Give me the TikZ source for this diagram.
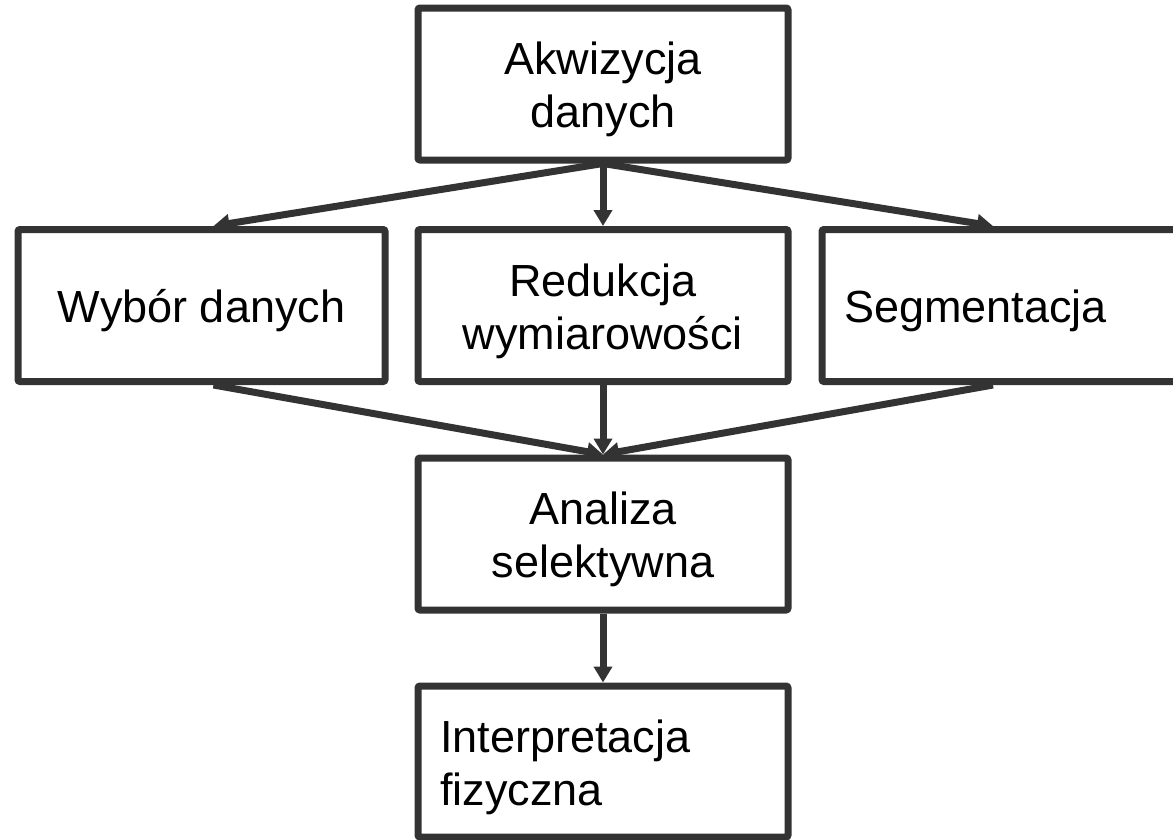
\documentclass[tikz,border=0pt]{standalone}
\usepackage{fontspec}
\setmainfont{Liberation Sans}
\usetikzlibrary{arrows.meta}
\definecolor{linegray}{HTML}{333333}
\newcommand{\boxstrut}{\rule{0pt}{44pt}}

\begin{document}
\begin{tikzpicture}[x=1pt,y=-1pt,line width=7pt,
	block/.style={draw=linegray,rounded corners=2pt,minimum width=370pt,minimum height=152pt,align=center,font=\fontsize{45}{53}\selectfont},
	leftblock/.style={block,text width=326pt,inner xsep=22pt,align=left},
	arr/.style={draw=linegray,-{Triangle[length=16pt,width=18pt]}}]
		\useasboundingbox (0,0) rectangle (1173,839);
		\clip (0,0) rectangle (1173,839);
		\node[block] (akw) at (603,84) {\boxstrut Akwizycja\\danych};
		\node[block,minimum width=367pt] (wyb) at (201.5,305.5) {\boxstrut Wybór danych};
		\node[block] (red) at (603,305.5) {\boxstrut Redukcja\\wymiarowości};
		\node[leftblock] (seg) at (1007,305.5) {\boxstrut Segmentacja};
		\node[block] (ana) at (603,534) {\boxstrut Analiza\\selektywna};
		\node[leftblock,minimum height=151pt] (int) at (603,761.5) {\boxstrut Interpretacja\\fizyczna};
		\draw[arr] (akw.south) -- ([xshift=12pt]wyb.north);
		\draw[arr] (akw.south) -- (red.north);
		\draw[arr] (akw.south) -- ([xshift=-14pt]seg.north);
		\foreach \src/\dx in {wyb/12pt,red/0pt,seg/-14pt}
		{\draw[arr] ([xshift=\dx]\src.south) -- (ana.north);}
		\draw[arr] (ana.south) -- (int.north);
\end{tikzpicture}
\end{document}
